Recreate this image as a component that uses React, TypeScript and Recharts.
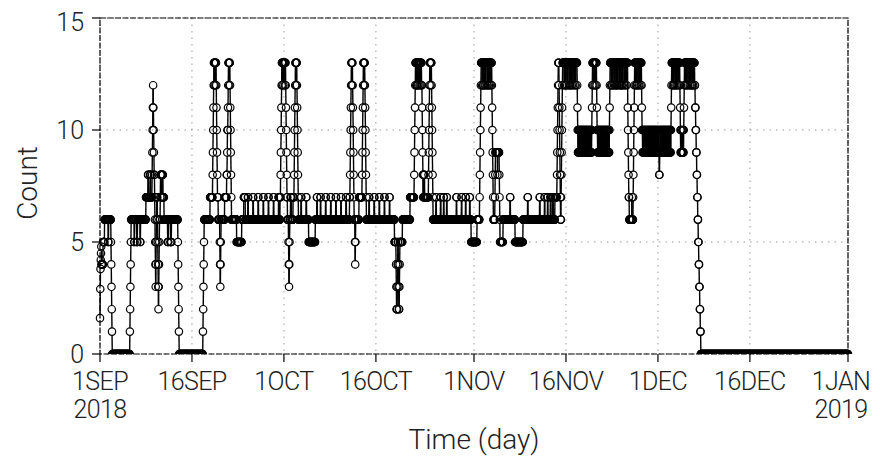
import { LineChart, Line, XAxis, YAxis, CartesianGrid, ReferenceArea, Label } from "recharts";

const FONT = "Roboto, 'DejaVu Sans Condensed', sans-serif";
const TEXT_STYLE = { fontWeight: 300 };

// hourly counts, run-length written: "v" = one hour at v, "v*n" = n hours at v
const COUNT_SEP = `
1.6 2.9 3.8 4.2 4.5 4.8 4*6 5*6
6*14 5*2 6*9 5 4 3 2 1 0*69 1 2 3 4 5
6*12 5*2 6*8 5*3 6*10 5*2 6*21
7*8 8*2 7*6 8*3 7*5 8 9 10 11 12 11 10 9 8*2
7 6 5 4 3 4 5 6 7*3 6 5 4 3 2 3 4 5 6*3 7 8*4 7*3 8*3
7*4 6*14 5*3 6*8 5*4 6*25 5 4 3 2 1 0*93 1 2 3 4 5
6*23 7*10 8 9 10 11 12 13*2 12 13*3 12 13*2
12 11 10 9 8 7*3 6*6 5 4 3 4 5 6*14 7*8
8*2 9 10*2 11 12 13*3 12 13*2 12 11 10 9 8 7
6*20 5*20 6*8 7*6 6*10
7*2 6*18 7*2 6*18 7*2 6*18 7*2 6*18 7*2 6*18 7*2 6*18 7*3 6*3
7*2 8 9 10 11 12 13*2 12 13*3 12 13`;

const COUNT_OCT = `
13*4 12 13*2 12 11 10 9 8 7*2 6*4 5 4 3 4 5 6*3
7*4 6*6 7*4 8 9 10 11 12 13*2 12 13*3 12 11 10 9 8 7
6*10 7*2 6*18 7*2 6*8 5*26
6*6 7*2 6*12 7*2 6*18 7*2 6*18 7*2 6*18 7*2 6*18 7*2 6*18 7*2 6*12 7*2
8 9 10 11 12 13*2 12 13*2 12 11 10 9 8 7 6*3 5 4 5 6*5
6*8 7*12 8 9 10 11 12 13*3 12 13*2 12 11 10 9 8 7
6*10 7*2 6*18 7*2 6*18 7*2 6*18 7*2 6*18 7*2 6*18
5*6 4 3 2*3 3 4 5*2 4 3 2*2 3 4 5*10 6*30 7*16
8 9 10 11 12 13*3 12 13*2 12*2 13*3 12 13*4 12 13*3 12 13*3 12*2
11 10 9 8 7 8 7 8 7 8 7*3
7*12 8 9 10 11 12 13*3 12 13*3 12 11 10 9 8 7 6*3
6*8 7*2 6*16 7*2 6*10 7*2 6*10 7*2 6*36 7*2 6*18 7*2 6*14 7*2 6*14 7*2
6*4 5*11`;

const COUNT_NOV = `
5*12 6*10 7 8 9 10 11 12
13*4 12 13*3 12*2 13*4 12 13*3 12 13*5 12*2 13*4 12 13*3 12 13*4 12 13*2
12 11 10 9 8 7 6*6 7 8 9*8 8 9*6 8 7 6 5*12 6*2
6*25 7*2 6*18 5*31 6*18 7*2 6*45 7*2 6*17 7*2 6*10 7*2 6*9 7*3
6*6 7*3 6*6 7*8 8 9 10 11 12 13*3 12 11 10 9 8 7 6*2 7
8 9 10 11 12 13*2
13*4 12 13*5 12*2 13*4 12 13*6 12 13*3 12*2 13*5 12 13*4 12 13*5 12 13*3 12 13*5 12
11 10 9*2
10*2 9*2 10*2 9*2 10*2 9*2 10*2 9*2 10*2 9*2 10*2 9*2 10*2 9*2
10*2 9*2 10*2 9*2 10*2 9*2 10*2 9*2 10*2 9*2 10*2 9*2 10 11
12 13*3 12 13*4 12 13*3 12 13*3 12 11
10*2 9*2 10*2 9*2 10*2 9*2 10*2 9*2 10*2 9*2 10*2 9*2
10*2 9*2 10*2 9*2 10*2 9*2 10*2 9*2 10*2 9*2 10*2 9*2 10 11
12 13*4 12 13*3 12*2 13*5 12 13*3 12 13*4 12*2 13*3 12 13*5 12 13*3 12 13*4 12*2
13*3 12 13*5 12 13*4 12 13*4 12 13*3
11 10 9 8 7*2 6*10 7 6*4 7 8 9 10 11 12
13*4 12 13*3 12*2 13*4 12 13*3 12 13*4 12 13*3
12 11
10*2 9*2 10*2 9*2 10*2 9*2 10*2 9*2 10*2 9*2 10*2 9*2 10*2 9*2 10*2 9*2
10*2 9*2 10*2 9*2 10*2 9*2 10*2 9*2 10*2 9*2 10*2 9*2 10*2 9*2 10*2`;

const COUNT_DEC = `
9*2 10*2 9 8*2 9
10*2 9*2 10*2 9*2 10*2 9*2 10*2 9*2 10*2 9*2 10*2 9*2 10*2 9*2 10*2 9*2 10*2 9*2
10*2 9*2 10*2 9 10 11 12
13*4 12 13*3 12*2 13*4 12 13*4 12 13*3 12 13*4 12 13*3
12 11 10 9*2 10 9*3 10 9*2 10 9*2 10 11 12
13*4 12 13*3 12*2 13*4 12 13*5 12 13*3 12 13*4 12*2 13*3 12 13*5
12*2 11*2 10*2 9*2 8*2 7*2 6*2 5*2 4*2 3*2 2*2 1*2
0*577`;

const TICK_DAYS = [0, 15, 30, 45, 61, 76, 91, 106, 122];
const TICK_LABELS = ["1SEP\n2018", "16SEP", "1OCT", "16OCT", "1NOV", "16NOV", "1DEC", "16DEC", "1JAN\n2019"];
const Y_TICKS = [0, 5, 10, 15];

function expand(runs: string): number[] {
  const out: number[] = [];
  for (const tok of runs.trim().split(/\s+/)) {
    const [v, n] = tok.split("*");
    const times = n ? Number(n) : 1;
    for (let i = 0; i < times; i++) out.push(Number(v));
  }
  return out;
}

const counts = [COUNT_SEP, COUNT_OCT, COUNT_NOV, COUNT_DEC].flatMap(expand);
const data = counts.map((v, i) => ({ t: i / 24, count: v }));

const R = 3.7;

// GrADS style: segment to the previous point, trimmed at the circle edges, then an open circle
function Marker(props: any) {
  const { cx, cy, index, points } = props;
  if (cx == null || cy == null) return null;
  const prev = index > 0 && points ? points[index - 1] : null;
  let seg = null;
  if (prev && prev.x != null && prev.y != null) {
    const dx = cx - prev.x;
    const dy = cy - prev.y;
    const len = Math.hypot(dx, dy);
    if (len > 2 * R) {
      const ux = dx / len;
      const uy = dy / len;
      seg = (
        <line
          x1={prev.x + ux * R}
          y1={prev.y + uy * R}
          x2={cx - ux * R}
          y2={cy - uy * R}
          stroke="#000"
          strokeWidth={1.4}
        />
      );
    }
  }
  return (
    <g key={`m-${index}`}>
      {seg}
      <circle cx={cx} cy={cy} r={R} fill="none" stroke="#000" strokeWidth={1.2} />
    </g>
  );
}

function DateTick({ x, y, payload }: any) {
  const idx = TICK_DAYS.indexOf(payload.value);
  const lines = (TICK_LABELS[idx] ?? "").split("\n");
  // the last label sits on the right edge of the page, nudge it in so it is not cut
  const tx = idx === TICK_DAYS.length - 1 ? x - 7 : x;
  return (
    <text
      x={tx}
      y={y}
      textAnchor="middle"
      fontSize={25}
      fontFamily={FONT}
      fill="#222"
      letterSpacing={-0.6}
      style={TEXT_STYLE}
    >
      {lines.map((s, i) => (
        <tspan key={i} x={tx} dy={28}>
          {s}
        </tspan>
      ))}
    </text>
  );
}

export default function App() {
  return (
    <div style={{ width: 872, height: 448 }}>
      <LineChart width={872} height={448} data={data} margin={{ top: 10, right: 32, bottom: 0, left: 0 }}>
        <CartesianGrid stroke="#9a9a9a" strokeDasharray="1.5 5" />
        <XAxis
          type="number"
          dataKey="t"
          domain={[0, 122]}
          ticks={TICK_DAYS}
          interval={0}
          height={102}
          axisLine={false}
          tickLine={{ stroke: "#000", strokeWidth: 1.2 }}
          tickSize={8}
          tickMargin={0}
          tick={<DateTick />}
        >
          <Label
            content={({ viewBox }: any) => (
              <text
                x={viewBox.x + viewBox.width / 2}
                y={viewBox.y + viewBox.height - 7}
                textAnchor="middle"
                fontSize={28}
                fontFamily={FONT}
                fill="#222"
                style={TEXT_STYLE}
              >
                Time (day)
              </text>
            )}
          />
        </XAxis>
        <YAxis
          type="number"
          domain={[0, 15]}
          ticks={Y_TICKS}
          allowDataOverflow
          width={92}
          axisLine={false}
          tickLine={{ stroke: "#000", strokeWidth: 1.2 }}
          tickSize={8}
          tickMargin={8}
          tick={{ fontSize: 25, fontFamily: FONT, fill: "#222", style: TEXT_STYLE }}
        >
          <Label
            content={({ viewBox }: any) => {
              const cy = viewBox.y + viewBox.height / 2 - 3;
              return (
                <text
                  x={29}
                  y={cy}
                  transform={`rotate(-90 29 ${cy})`}
                  textAnchor="middle"
                  fontSize={28}
                  fontFamily={FONT}
                  fill="#222"
                  style={TEXT_STYLE}
                >
                  Count
                </text>
              );
            }}
          />
        </YAxis>
        <ReferenceArea
          x1={0}
          x2={122}
          y1={0}
          y2={15}
          fill="none"
          stroke="#000"
          strokeWidth={1.2}
          strokeDasharray="6 1.5"
          ifOverflow="visible"
        />
        <Line
          type="linear"
          dataKey="count"
          stroke="none"
          dot={Marker}
          activeDot={false}
          isAnimationActive={false}
        />
      </LineChart>
    </div>
  );
}
